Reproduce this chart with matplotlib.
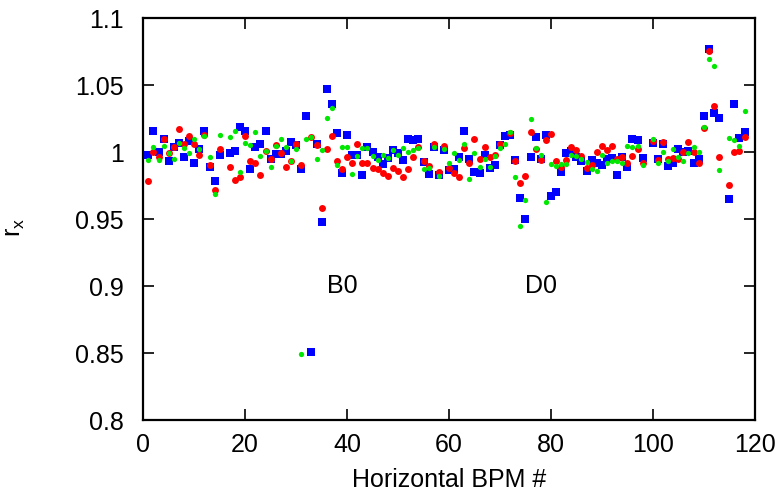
import numpy as np
import matplotlib
matplotlib.use("Agg")
import matplotlib.pyplot as plt
from matplotlib.ticker import FuncFormatter

plt.rcParams['font.family'] = ['Liberation Sans', 'DejaVu Sans']
plt.rcParams['mathtext.fontset'] = 'custom'
plt.rcParams['mathtext.rm'] = 'Liberation Sans'
plt.rcParams['mathtext.it'] = 'Liberation Sans'

# BPM numbers (some BPMs absent)
bpm = list(range(1, 16)) + list(range(17, 99)) + list(range(100, 114)) + list(range(115, 119))

blue = [0.998, 1.016, 1.000, 1.010, 0.993, 1.004, 1.007, 0.996, 1.008, 0.992,
        1.002, 1.016, 0.989, 0.978, 0.998,
        0.999, 1.001, 1.019, 1.016, 0.987, 1.0035, 1.006, 1.016, 0.995, 0.9985,
        0.9985, 1.0005, 1.0075, 1.005, 0.987, 1.027, 0.851, 1.006, 0.948, 1.047,
        1.0358, 1.014, 0.984, 1.0127, 0.998, 0.9975, 0.983, 1.0035, 1.000, 0.996,
        0.9913, 0.9953, 1.0016, 0.999, 0.994, 1.0095, 1.009, 1.0095, 0.9926, 0.9833,
        1.0038, 0.9827, 1.0015, 0.9865, 0.987, 0.996, 1.016, 0.995, 0.985, 0.984,
        0.998, 0.988, 0.990, 1.005, 1.012, 1.013, 0.994, 0.9654, 0.9498, 0.996,
        1.011, 0.9946, 1.013, 0.967, 0.9705, 0.985, 0.999, 1.001, 0.996, 0.993,
        0.986, 0.994, 0.9916, 0.9903, 0.9945, 0.9958, 0.9828, 0.996, 0.9887, 1.0096,
        1.0086, 0.9953,
        1.0064, 0.995, 1.006, 0.9896, 0.992, 1.002, 1.0002, 1.001, 0.992, 0.9946,
        1.0268, 1.0766, 1.029, 1.0251,
        0.9647, 1.0358, 1.0102, 1.0147]

red = [0.978, 1.000, 0.996, 1.010, 0.9995, 1.004, 1.017, 1.006, 1.012, 1.006,
       0.998, 1.013, 0.990, 0.972, 1.002,
       0.989, 0.979, 0.981, 1.012, 0.9935, 0.992, 0.983, 1.001, 0.995, 1.005,
       0.999, 0.989, 0.9935, 1.006, 0.990, np.nan, 1.011, 1.0054, 0.958, 1.002,
       1.0117, 0.9935, 0.9876, 0.9965, 0.9916, 1.0057, 0.9916, 0.9916, 0.9878, 0.987,
       0.9847, 0.9818, 0.988, 0.9862, 0.9812, 0.9873, 0.9965, 1.0037, 0.9934, 0.9898,
       1.0058, 0.9852, 1.0045, 0.988, 0.984, 0.981, 1.003, 0.992, 1.0095, 0.9947,
       1.004, 0.996, 0.998, 1.006, np.nan, 1.0145, 0.9934, 0.977, 0.982, 1.015,
       1.002, 0.994, 1.009, 1.0137, 0.9934, 0.989, 0.994, 1.0034, 1.0016, 0.997,
       0.988, 0.990, 1.000, 1.0047, 1.0018, 1.0047, 0.995, 0.9965, 0.992, 0.997,
       1.002, 0.992,
       1.0082, 0.994, 1.0072, 0.995, 0.9955, 0.995, 1.0001, 1.0077, 1.0002, 0.992,
       1.0177, 1.0754, 1.0343, 0.9965,
       0.9751, 1.0002, 1.001, 1.011]

green = [0.994, 1.004, 0.994, 1.0045, 0.999, 0.995, 1.007, 1.003, 0.999, 1.010,
         1.002, 1.012, 0.996, 0.969, 1.013,
         1.011, 1.016, 0.985, 1.0065, 1.005, 1.015, 0.997, 1.001, 0.9886, 1.0045,
         1.010, 1.0035, 0.993, 1.0025, 0.849, 1.0095, 1.0114, 0.995, 1.0015, 1.0256,
         1.0326, 0.9905, 1.0035, 1.0035, 0.9836, 0.997, 1.0032, 1.0032, 0.9972, 0.994,
         0.998, 0.9953, 1.0013, 0.998, 1.0032, 0.9998, 1.0017, 1.003, 0.9873, 0.9878,
         1.0038, 0.9822, 1.0024, 0.992, 0.999, 0.994, 1.006, 0.980, 0.999, 0.989,
         0.995, 0.989, 0.997, 1.003, 1.0057, 1.015, 0.9816, 0.945, 0.964, 1.0244,
         1.0027, 0.998, 0.9627, 0.9908, 0.9898, 0.9908, 0.991, 0.9978, 0.997, 0.9945,
         0.9925, 0.987, 0.9857, 0.998, 0.992, 0.9936, 0.993, 0.992, 1.0047, 1.004,
         1.0046, 0.9903,
         1.0096, 0.992, 1.0002, 0.993, 1.002, 0.9965, 0.9935, 0.9993, 1.0035, 1.0002,
         1.0184, 1.0696, 1.0642, 0.9864,
         1.0101, 1.009, 1.0047, 1.0307]

xticks = [0, 20, 40, 60, 80, 100, 120]
yticks = [0.8, 0.85, 0.9, 0.95, 1.0, 1.05, 1.1]
annotations = [("B0", 39.0, 0.9), ("D0", 78.0, 0.9)]

fig = plt.figure(figsize=(7.82, 4.92), dpi=100)
ax = fig.add_axes([0.1832, 0.1463, 0.7819, 0.8171])

ax.plot(bpm, blue, linestyle='none', marker='s', markersize=5.4,
        markeredgewidth=0, color='#0000ff', zorder=3)
ax.plot(bpm, red, linestyle='none', marker='o', markersize=5.0,
        markeredgewidth=0, color='#ff0000', zorder=4)
ax.plot(bpm, green, linestyle='none', marker='o', markersize=3.8,
        markeredgewidth=0, color='#00e800', zorder=5)

for txt, xx, yy in annotations:
    ax.text(xx, yy, txt, fontsize=18, ha='center', va='center')

ax.set_xlim(0, 120)
ax.set_ylim(0.8, 1.1)
ax.set_xticks(xticks)
ax.set_yticks(yticks)
ax.yaxis.set_major_formatter(FuncFormatter(lambda v, p: ('%g' % round(v, 3))))
ax.tick_params(direction='in', length=8, width=1.2, labelsize=18,
               top=True, right=True)
ax.tick_params(axis='x', pad=9)
ax.tick_params(axis='y', pad=14)
for s in ax.spines.values():
    s.set_linewidth(1.6)

ax.set_xlabel('Horizontal BPM #', fontsize=18, labelpad=8)
ax.set_ylabel(r'r$_\mathrm{x}$', fontsize=18)
ax.yaxis.set_label_coords(-0.19, 0.48)

fig.savefig('out.png', dpi=100)
